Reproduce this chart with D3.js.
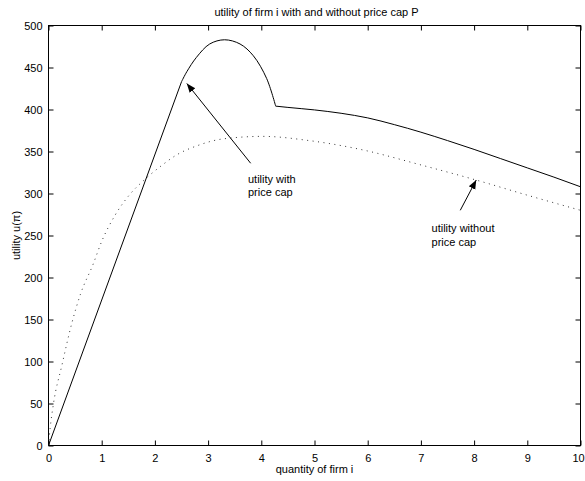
<!DOCTYPE html>
<html>
<head>
<meta charset="utf-8">
<script src="https://cdn.jsdelivr.net/npm/d3@7"></script>
<style>
html,body{margin:0;padding:0;background:#fff;}
svg{display:block;}
text{font-family:"Liberation Sans",Arial,Helvetica,sans-serif;fill:#000;}
</style>
</head>
<body>
<svg id="chart" width="585" height="481"></svg>
<script>
// Data
const xTicks = [0,1,2,3,4,5,6,7,8,9,10];
const yTicks = [0,50,100,150,200,250,300,350,400,450,500];

// utility with price cap: three pieces (kinks at 2.5 and 4.27)
const capRise = [[0,0],[2.5,433]];
const capPeak = [[2.5,433],[2.6,445],[2.78,462],[3.03,478],[3.31,483],[3.6,478],[3.85,464],[4.1,437],[4.27,404]];
const capTail = [[4.27,404],[4.5,402.5],[5,399.5],[5.5,395.5],[6,390],[6.5,382],[7,373],[7.5,363],[8,352.5],[8.5,341.5],[9,330.5],[9.5,319.5],[10,308]];

// utility without price cap
const noCap = [[0,0],[0.03,20],[0.094,50],[0.25,95],[0.44,146],[0.6,180],[0.84,216],[1.0,243],[1.25,274],[1.53,299],[1.78,315],[2.1,332],[2.41,346],[2.8,357],[3.28,365],[4.03,368],[4.9,363],[5.9,352],[7,334],[8.04,316],[9,298],[10,280]];

const title = "utility of firm i with and without price cap P";
const xLabel = "quantity of firm i";
const yLabel = "utility u(\u03c0)";
const notes = [
  {lines:["utility with","price cap"], tail:[3.8,336], tip:[2.6,431], tx:3.75, ty:313},
  {lines:["utility without","price cap"], tail:[7.74,280], tip:[8.04,316], tx:7.2, ty:254}
];

const svg = d3.select("#chart");
const L = 48.5, R = 580.5, T = 25.5, B = 445.5;
const x = d3.scaleLinear().domain([0,10]).range([L,R]);
const y = d3.scaleLinear().domain([0,500]).range([B,T]);

// frame
svg.append("rect").attr("x",L).attr("y",T).attr("width",R-L).attr("height",B-T)
  .attr("fill","none").attr("stroke","#000").attr("stroke-width",1);

const tl = 5;
// axes with inward ticks
const gx = svg.append("g").attr("transform",`translate(0,${B})`)
  .call(d3.axisBottom(x).tickValues(xTicks).tickFormat(d3.format("d")).tickSizeInner(-tl).tickSizeOuter(0).tickPadding(9));
const gxt = svg.append("g").attr("transform",`translate(0,${T})`)
  .call(d3.axisTop(x).tickValues(xTicks).tickFormat("").tickSizeInner(-tl).tickSizeOuter(0));
const gy = svg.append("g").attr("transform",`translate(${L},0)`)
  .call(d3.axisLeft(y).tickValues(yTicks).tickFormat(d3.format("d")).tickSizeInner(-tl).tickSizeOuter(0).tickPadding(9));
const gyr = svg.append("g").attr("transform",`translate(${R},0)`)
  .call(d3.axisRight(y).tickValues(yTicks).tickFormat("").tickSizeInner(-tl).tickSizeOuter(0));
[gx,gxt,gy,gyr].forEach(g=>{
  g.select(".domain").remove();
  g.selectAll("line").attr("stroke","#000");
  g.selectAll("text").attr("font-size","11px").attr("font-family","'Liberation Sans',Arial,sans-serif").attr("fill","#000");
});
gy.selectAll("text").attr("dx","3");
gx.selectAll(".tick").filter(d=>d===10).select("text").attr("dx","-2.5");

// lines
const lineLin = d3.line().x(d=>x(d[0])).y(d=>y(d[1]));
const lineCurve = d3.line().x(d=>x(d[0])).y(d=>y(d[1])).curve(d3.curveMonotoneX);
const lineNat = d3.line().x(d=>x(d[0])).y(d=>y(d[1])).curve(d3.curveCatmullRom.alpha(0.5));

svg.append("path").attr("d",lineCurve(noCap)).attr("fill","none")
  .attr("stroke","#333").attr("stroke-width",1).attr("stroke-dasharray","1,4.5");

[[capRise,lineLin],[capPeak,lineNat],[capTail,lineCurve]].forEach(([d,gen])=>{
  svg.append("path").attr("d",gen(d)).attr("fill","none")
    .attr("stroke","#000").attr("stroke-width",1).attr("stroke-linejoin","round");
});

// arrows
svg.append("defs").append("marker").attr("id","ah").attr("viewBox","0 0 10 10")
  .attr("refX",10).attr("refY",5).attr("markerWidth",9).attr("markerHeight",9)
  .attr("markerUnits","userSpaceOnUse").attr("orient","auto")
  .append("path").attr("d","M0,1 L10,5 L0,9 Z").attr("fill","#000");

notes.forEach(n=>{
  svg.append("line").attr("x1",x(n.tail[0])).attr("y1",y(n.tail[1]))
    .attr("x2",x(n.tip[0])).attr("y2",y(n.tip[1]))
    .attr("stroke","#000").attr("stroke-width",1).attr("marker-end","url(#ah)");
  const t = svg.append("text").attr("x",x(n.tx)).attr("y",y(n.ty)).attr("font-size","11px");
  n.lines.forEach((s,i)=>t.append("tspan").attr("x",x(n.tx)).attr("dy",i?13.5:0).text(s));
});

// titles
svg.append("text").attr("x",(L+R)/2+2).attr("y",16).attr("text-anchor","middle").attr("font-size","11px").text(title);
svg.append("text").attr("x",(L+R)/2).attr("y",473).attr("text-anchor","middle").attr("font-size","11px").text(xLabel);
svg.append("text").attr("transform",`translate(20,${(T+B)/2}) rotate(-90)`).attr("text-anchor","middle").attr("font-size","11px").text(yLabel);
</script>
</body>
</html>
